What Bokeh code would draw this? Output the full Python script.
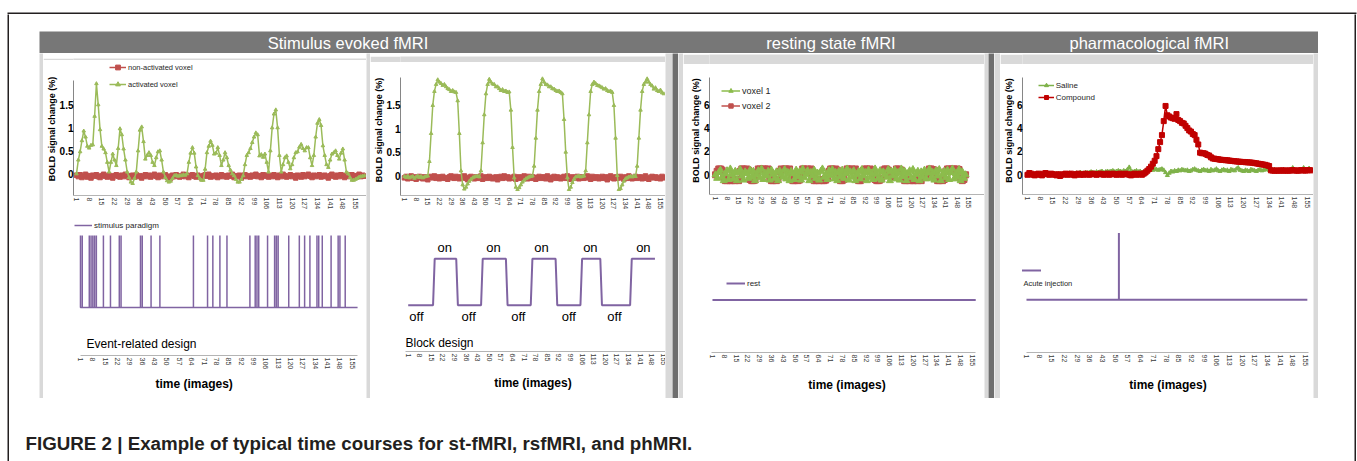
from bokeh.plotting import figure
from bokeh.layouts import row, column
from bokeh.models import (Range1d, LinearAxis, FixedTicker, Legend, LegendItem,
                          Label, NumeralTickFormatter, Title)
from bokeh.core.properties import value
from bokeh.embed import file_html
from bokeh.resources import INLINE
from bokeh.core.validation import silence
from bokeh.core.validation.warnings import MISSING_RENDERERS

silence(MISSING_RENDERERS, True)

# ---------------------------------------------------------------- data
TICKS = [1, 8, 15, 22, 29, 36, 43, 50, 57, 64, 71, 78, 85, 92, 99, 106, 113,
         120, 127, 134, 141, 148, 155]
SECTION_TITLES = ["Stimulus evoked fMRI", "resting state fMRI", "pharmacological fMRI"]
CAPTION = "FIGURE 2 | Example of typical time courses for st-fMRI, rsfMRI, and phMRI."

# panel 1: event-related design
act1 = [
    0.00, 0.30, 0.48, 0.72, 0.93, 0.80, 0.60, 0.56, 0.62, 0.63,
    1.25, 1.96, 1.50, 0.96, 0.60, 0.54, 0.46, 0.25, 0.04, 0.25,
    0.43, 0.30, 0.18, 0.55, 0.98, 0.85, 0.54, 0.30, 0.04, -0.08,
    -0.18, -0.21, -0.10, 0.04, 0.50, 0.95, 1.02, 0.70, 0.32, 0.40,
    0.46, 0.40, 0.25, 0.18, 0.35, 0.48, 0.50, 0.30, 0.04, -0.08,
    -0.15, -0.18, -0.16, -0.10, -0.04, -0.03, -0.05, -0.04, -0.04, -0.02,
    -0.03, 0.00, 0.25, 0.45, 0.57, 0.45, 0.15, -0.04, -0.10, -0.14,
    -0.14, 0.10, 0.46, 0.60, 0.71, 0.62, 0.43, 0.45, 0.57, 0.40,
    0.18, 0.30, 0.46, 0.35, 0.18, 0.08, 0.00, -0.04, -0.12, -0.18,
    -0.18, -0.12, -0.04, 0.20, 0.40, 0.46, 0.55, 0.68, 0.80, 0.89,
    0.85, 0.39, 0.42, 0.36, 0.43, 0.25, 0.04, 0.50, 1.00, 1.30,
    1.39, 1.00, 0.40, 0.04, 0.20, 0.35, 0.39, 0.25, 0.11, 0.20,
    0.35, 0.46, 0.48, 0.58, 0.64, 0.55, 0.50, 0.57, 0.57, 0.35,
    0.18, 0.40, 0.80, 1.10, 1.18, 1.05, 0.61, 0.40, 0.20, 0.14,
    0.30, 0.43, 0.46, 0.50, 0.40, 0.32, 0.45, 0.54, 0.30, 0.04,
    0.00, -0.08, -0.14, -0.14, -0.12, -0.10, -0.07, -0.06, -0.05, -0.04]
nonact1 = [
    -0.03, -0.06, -0.02, -0.08, -0.05, -0.01, -0.07, -0.04, -0.09, -0.03,
    -0.05, -0.02, -0.06, -0.08, -0.04, -0.01, -0.05, -0.07, -0.03, -0.06,
    -0.09, -0.04, -0.02, -0.05, -0.07, -0.03, -0.06, -0.01, -0.04, -0.08,
    -0.05, -0.03, -0.07, -0.02, -0.06, -0.04, -0.09, -0.05, -0.02, -0.06,
    -0.03, -0.07, -0.04, -0.01, -0.05, -0.08, -0.03, -0.06, -0.04, -0.02,
    -0.07, -0.05, -0.09, -0.03, -0.06, -0.02, -0.04, -0.07, -0.05, -0.01,
    -0.06, -0.03, -0.08, -0.04, -0.02, -0.05, -0.07, -0.03, -0.06, -0.09,
    -0.04, -0.02, -0.05, -0.01, -0.07, -0.04, -0.06, -0.03, -0.08, -0.05,
    -0.02, -0.06, -0.04, -0.07, -0.03, -0.05, -0.01, -0.08, -0.04, -0.06,
    -0.03, -0.09, -0.05, -0.02, -0.06, -0.04, -0.07, -0.03, -0.05, -0.01,
    -0.06, -0.04, -0.08, -0.02, -0.05, -0.03, -0.07, -0.04, -0.06, -0.02,
    -0.05, -0.08, -0.03, -0.06, -0.01, -0.04, -0.07, -0.05, -0.02, -0.06,
    -0.04, -0.09, -0.03, -0.05, -0.07, -0.02, -0.06, -0.04, -0.01, -0.05,
    -0.08, -0.03, -0.06, -0.04, -0.02, -0.07, -0.05, -0.03, -0.06, -0.09,
    -0.04, -0.01, -0.05, -0.07, -0.03, -0.06, -0.02, -0.04, -0.08, -0.05,
    -0.03, -0.06, -0.02, -0.07, -0.04, -0.05, -0.01, -0.06, -0.03, -0.05]
stim_onsets = [1, 2, 6, 7, 8, 9, 10, 14, 18, 23, 24, 35, 36, 41, 46, 65, 73, 76,
               80, 84, 97, 100, 101, 102, 107, 111, 112, 113, 119, 125, 128, 131,
               135, 136, 138, 143, 147, 148, 151]
stim_n_images = 158

# panel 2: block design
act2 = [
    -0.02, -0.04, -0.01, -0.05, -0.03, -0.02, -0.06, -0.03, -0.01, -0.04,
    -0.02, -0.05, -0.03, -0.02, -0.01, 0.30, 0.90, 1.50, 1.80, 1.95,
    2.05, 2.00, 1.97, 1.93, 1.95, 1.90, 1.86, 1.84, 1.80, 1.82,
    1.79, 1.78, 1.60, 0.90, 0.10, -0.20, -0.29, -0.25, -0.18, -0.12,
    -0.08, -0.05, -0.03, -0.02, -0.01, -0.03, 0.10, 0.70, 1.30, 1.75,
    1.95, 2.06, 2.00, 1.96, 1.95, 1.90, 1.90, 1.86, 1.82, 1.84,
    1.80, 1.81, 1.78, 1.79, 1.40, 0.60, -0.05, -0.25, -0.30, -0.26,
    -0.20, -0.14, -0.10, -0.07, -0.05, -0.03, -0.02, -0.01, 0.20, 0.80,
    1.40, 1.80, 1.95, 2.07, 2.00, 1.95, 1.94, 1.90, 1.90, 1.86,
    1.85, 1.82, 1.80, 1.81, 1.78, 1.75, 1.20, 0.50, -0.05, -0.30,
    -0.25, -0.15, -0.08, -0.03, -0.02, -0.01, -0.03, -0.02, -0.01, 0.10,
    0.70, 1.30, 1.80, 1.95, 2.00, 1.97, 1.93, 1.92, 1.90, 1.88,
    1.85, 1.86, 1.82, 1.80, 1.81, 1.78, 1.50, 0.80, 0.00, -0.30,
    -0.28, -0.20, -0.12, -0.07, -0.05, -0.03, -0.02, -0.03, -0.01, -0.02,
    0.20, 0.80, 1.40, 1.80, 1.95, 2.00, 2.07, 2.00, 1.95, 1.92,
    1.85, 1.88, 1.82, 1.80, 1.83, 1.77, 1.75]
nonact2 = [
    -0.05, -0.02, -0.07, -0.04, -0.01, -0.06, -0.03, -0.08, -0.05, -0.02,
    -0.04, -0.07, -0.03, -0.06, -0.09, -0.04, -0.02, -0.05, -0.01, -0.06,
    -0.03, -0.07, -0.04, -0.02, -0.06, -0.05, -0.08, -0.03, -0.01, -0.05,
    -0.06, -0.02, -0.04, -0.07, -0.03, -0.05, -0.01, -0.06, -0.09, -0.04,
    -0.02, -0.05, -0.07, -0.03, -0.06, -0.04, -0.01, -0.08, -0.05, -0.03,
    -0.06, -0.02, -0.04, -0.07, -0.05, -0.03, -0.09, -0.04, -0.02, -0.06,
    -0.01, -0.05, -0.03, -0.07, -0.04, -0.06, -0.02, -0.08, -0.05, -0.03,
    -0.06, -0.04, -0.01, -0.05, -0.07, -0.02, -0.06, -0.03, -0.04, -0.08,
    -0.05, -0.02, -0.06, -0.04, -0.03, -0.07, -0.01, -0.05, -0.09, -0.04,
    -0.02, -0.06, -0.03, -0.05, -0.07, -0.04, -0.02, -0.06, -0.01, -0.05,
    -0.08, -0.03, -0.06, -0.04, -0.02, -0.07, -0.05, -0.03, -0.06, -0.04,
    -0.01, -0.05, -0.08, -0.02, -0.06, -0.04, -0.03, -0.07, -0.05, -0.02,
    -0.06, -0.03, -0.09, -0.04, -0.01, -0.05, -0.07, -0.03, -0.06, -0.04,
    -0.02, -0.05, -0.08, -0.03, -0.06, -0.01, -0.04, -0.07, -0.05, -0.02,
    -0.06, -0.04, -0.03, -0.07, -0.05, -0.01, -0.06, -0.08, -0.04, -0.02,
    -0.05, -0.03, -0.06, -0.04, -0.07, -0.02, -0.05]
on_blocks = [(17, 30), (46, 60), (76, 90), (106, 117), (136, 150)]
block_n_images = 150
on_label_x = [23, 52.5, 81.5, 111, 143]
off_label_x = [6, 37.5, 67.5, 98, 125.5]

# panel 3: resting state
voxel1 = [
    0.00, -0.30, 0.20, 0.40, -0.20, -0.50, 0.10, 0.35, -0.40, 0.50,
    0.00, -0.35, 0.30, -0.50, 0.20, 0.45, -0.10, -0.45, 0.25, 0.10,
    -0.30, 0.40, -0.20, 0.30, -0.50, 0.00, 0.35, -0.25, 0.50, -0.40,
    0.15, -0.10, 0.30, -0.45, 0.40, 0.05, -0.30, 0.25, -0.50, 0.35,
    0.00, -0.20, 0.45, -0.35, 0.20, -0.50, 0.30, 0.10, -0.40, 0.40,
    -0.15, 0.25, -0.45, 0.50, -0.25, 0.00, 0.35, -0.50, 0.20, -0.10,
    0.40, -0.30, 0.15, -0.45, 0.30, 0.50, -0.20, 0.05, -0.40, 0.35,
    -0.05, 0.45, -0.35, 0.20, -0.50, 0.30, -0.15, 0.40, -0.30, 0.10,
    0.50, -0.45, 0.25, -0.20, 0.35, -0.50, 0.00, 0.30, -0.35, 0.45,
    -0.10, 0.20, -0.50, 0.40, -0.25, 0.15, -0.40, 0.50, 0.05, -0.30,
    0.35, -0.45, 0.25, 0.00, -0.20, 0.45, -0.50, 0.30, -0.10, 0.40,
    -0.35, 0.20, -0.45, 0.50, -0.15, 0.30, -0.50, 0.10, 0.35, -0.25,
    0.45, -0.40, 0.05, 0.30, -0.50, 0.25, -0.20, 0.40, -0.35, 0.15,
    0.50, -0.30, 0.20, -0.45, 0.35, -0.10, 0.45, -0.50, 0.00, 0.30,
    -0.25, 0.40, -0.40, 0.20, 0.50, -0.35, 0.10, -0.20, 0.45, -0.50,
    0.25, -0.30, 0.00]
voxel2 = [
    0.00, 0.30, 0.50, 0.50, 0.40, -0.20, -0.50, -0.50, -0.40, -0.50,
    -0.50, -0.45, -0.50, -0.40, -0.50, 0.30, 0.50, 0.50, 0.45, 0.50,
    0.40, -0.40, -0.50, -0.50, -0.45, 0.20, 0.50, 0.50, 0.45, 0.50,
    0.50, 0.40, 0.50, -0.30, -0.50, -0.50, -0.45, -0.50, -0.40, 0.30,
    0.50, 0.45, 0.50, 0.50, 0.40, 0.50, -0.30, -0.50, -0.50, -0.40,
    -0.50, -0.45, 0.10, 0.50, 0.50, 0.40, 0.50, 0.45, 0.50, -0.20,
    -0.50, -0.50, -0.45, -0.50, -0.40, -0.50, -0.50, -0.45, -0.30, 0.30,
    0.50, 0.50, 0.45, 0.50, 0.40, -0.30, -0.50, -0.50, -0.40, 0.20,
    0.50, 0.50, 0.45, 0.50, 0.40, 0.50, -0.40, -0.50, -0.50, -0.30,
    0.40, 0.50, 0.50, 0.45, 0.50, 0.40, 0.00, -0.40, -0.50, -0.50,
    -0.45, -0.30, 0.40, 0.50, 0.50, 0.40, 0.10, -0.20, -0.10, 0.20,
    0.50, 0.50, 0.45, 0.40, -0.30, -0.50, -0.50, -0.45, -0.50, -0.40,
    -0.50, -0.50, -0.45, -0.50, -0.40, -0.50, -0.20, 0.10, -0.10, 0.20,
    0.50, 0.50, 0.45, 0.40, -0.30, -0.50, -0.50, -0.45, -0.50, -0.40,
    0.30, 0.50, 0.50, 0.45, 0.50, 0.50, 0.40, 0.50, 0.45, -0.30,
    -0.50, -0.40, 0.00]
rest_n_images = 157
rest_level = 0

# panel 4: pharmacological
saline = [
    0.05, 0.00, 0.05, -0.05, 0.00, 0.05, 0.00, 0.10, 0.05, 0.00,
    0.05, 0.10, 0.05, 0.00, 0.05, 0.10, 0.05, 0.10, 0.00, 0.05,
    0.10, 0.05, 0.10, 0.15, 0.10, 0.05, 0.10, 0.15, 0.10, 0.20,
    0.15, 0.10, 0.20, 0.15, 0.20, 0.25, 0.20, 0.15, 0.25, 0.20,
    0.25, 0.30, 0.20, 0.25, 0.30, 0.25, 0.30, 0.35, 0.25, 0.30,
    0.35, 0.30, 0.25, 0.35, 0.30, 0.45, 0.65, 0.30, 0.25, 0.30,
    0.35, 0.25, 0.30, 0.20, 0.25, 0.30, 0.35, 0.40, 0.45, 0.40,
    0.50, 0.45, 0.40, 0.45, 0.50, 0.40, 0.20, -0.05, 0.15, 0.30,
    0.25, 0.35, 0.30, 0.40, 0.35, 0.45, 0.40, 0.35, 0.40, 0.30,
    0.35, 0.45, 0.50, 0.40, 0.35, 0.30, 0.40, 0.45, 0.35, 0.40,
    0.30, 0.45, 0.35, 0.40, 0.50, 0.35, 0.30, 0.40, 0.45, 0.35,
    0.40, 0.30, 0.45, 0.40, 0.35, 0.50, 0.60, 0.40, 0.35, 0.30,
    0.40, 0.35, 0.30, 0.45, 0.40, 0.35, 0.30, 0.40, 0.45, 0.35,
    0.40, 0.50, 0.45, 0.40, 0.35, 0.40, 0.45, 0.35, 0.40, 0.35,
    0.40, 0.45, 0.35, 0.40, 0.30, 0.40, 0.60, 0.35, 0.40, 0.35,
    0.45, 0.40, 0.60, 0.45, 0.40, 0.55, 0.45]
compound = [
    0.00, 0.15, 0.10, 0.00, -0.05, 0.05, 0.10, 0.00, -0.05, 0.10,
    0.15, 0.05, 0.00, 0.10, 0.05, 0.00, -0.05, 0.05, -0.10, 0.00,
    0.05, 0.10, 0.00, 0.05, 0.10, 0.00, -0.05, 0.05, 0.10, 0.00,
    0.05, 0.00, 0.10, 0.05, 0.00, 0.05, 0.10, 0.05, 0.00, 0.05,
    0.10, 0.05, 0.00, 0.05, 0.10, 0.00, 0.05, 0.10, 0.05, 0.00,
    0.05, 0.10, 0.00, 0.05, 0.10, 0.05, 0.00, -0.05, 0.05, 0.10,
    0.00, 0.05, 0.10, 0.00, 0.10, 0.20, 0.35, 0.50, 0.70, 0.95,
    1.20, 1.60, 2.20, 2.80, 3.40, 4.60, 5.90, 5.10, 5.00, 4.90,
    4.85, 4.80, 5.20, 4.70, 4.60, 4.45, 4.40, 4.20, 4.00, 3.80,
    3.70, 3.50, 3.40, 3.00, 2.60, 1.90, 1.85, 1.85, 1.80, 1.70,
    1.65, 1.50, 1.40, 1.38, 1.35, 1.33, 1.30, 1.28, 1.27, 1.25,
    1.24, 1.22, 1.20, 1.18, 1.16, 1.15, 1.13, 1.12, 1.10, 1.10,
    1.08, 1.07, 1.06, 1.05, 1.03, 1.00, 0.98, 0.95, 0.93, 0.90,
    0.87, 0.85, 0.80, 0.75, 0.38, 0.36, 0.35, 0.37, 0.35, 0.36,
    0.38, 0.35, 0.37, 0.36, 0.35, 0.38, 0.40, 0.37, 0.36, 0.35,
    0.38, 0.40, 0.37, 0.36, 0.39, 0.40, 0.38]
injection_image = 52
pharm_n_images = 156

# ---------------------------------------------------------------- style
FONT = "Liberation Sans"
WHITE = "#ffffff"
LG = "#d9d9d9"
DG = "#6e6e6e"
HDR = "#777777"
FRAME = "#231f20"
GREEN = "#9bbb59"
RED = "#c0504d"
PURPLE = "#8064a2"
DRED = "#c00000"
SGREEN = "#7fb24a"


def block(w, h, color):
    return figure(width=w, height=h, toolbar_location=None, output_backend="svg",
                  x_axis_type=None, y_axis_type=None, min_border=0,
                  outline_line_color=None, background_fill_color=color,
                  border_fill_color=color)


def chart(w, h, xr, yr, ml, mt, mb, mr=0):
    return figure(width=w, height=h, x_range=Range1d(*xr), y_range=Range1d(*yr),
                  toolbar_location=None, output_backend="svg",
                  x_axis_type=None, y_axis_type=None,
                  min_border_left=ml, min_border_right=mr, min_border_top=mt,
                  min_border_bottom=mb, outline_line_color=None,
                  background_fill_color=WHITE, border_fill_color=WHITE)


def add_xaxis(p, bounds=None, label=None, standoff=8):
    ax = LinearAxis(ticker=FixedTicker(ticks=TICKS),
                    axis_line_color="#b4b4b4", axis_line_width=1,
                    major_tick_line_color=None, minor_tick_line_color=None,
                    major_tick_out=0, major_tick_in=0,
                    minor_tick_out=0, minor_tick_in=0,
                    major_label_orientation="vertical",
                    major_label_text_font=FONT, major_label_text_font_size="7px",
                    major_label_text_color="#3a3a3a", major_label_standoff=2)
    if bounds is not None:
        ax.bounds = bounds
    if label:
        ax.axis_label = label
        ax.axis_label_text_font = FONT
        ax.axis_label_text_font_size = "12px"
        ax.axis_label_text_font_style = "bold"
        ax.axis_label_text_color = "#000000"
        ax.axis_label_standoff = standoff
    p.add_layout(ax, "below")


def add_yaxis(p, ticks, bounds):
    ax = LinearAxis(ticker=FixedTicker(ticks=ticks), bounds=bounds,
                    formatter=NumeralTickFormatter(format="0.[0]"),
                    axis_label="BOLD signal change (%)",
                    axis_label_text_font=FONT, axis_label_text_font_size="9px",
                    axis_label_text_font_style="bold",
                    axis_label_text_color="#000000", axis_label_standoff=0,
                    major_label_text_font=FONT, major_label_text_font_size="10px",
                    major_label_text_font_style="bold",
                    major_label_text_color="#000000", major_label_standoff=0,
                    major_tick_line_color=None, minor_tick_line_color=None,
                    major_tick_out=0, major_tick_in=0,
                    minor_tick_out=0, minor_tick_in=0,
                    axis_line_color="#868686")
    p.add_layout(ax, "left")


def add_legend(p, items, loc, **kw):
    opts = dict(location=loc, orientation="vertical", background_fill_alpha=0,
                border_line_color=None, padding=0, margin=0, spacing=5,
                glyph_width=17, glyph_height=12, label_height=12,
                label_standoff=2, label_text_font=FONT,
                label_text_font_size="7.5px", label_text_color="#262626")
    opts.update(kw)
    lg = Legend(items=[LegendItem(label=t, renderers=r) for t, r in items], **opts)
    p.add_layout(lg)


# ---------------------------------------------------------------- panel 1
p1t = chart(323, 152, (-0.65, 161.07), (-0.471, 2.42), ml=29, mt=2, mb=15)
add_yaxis(p1t, [0, 0.5, 1, 1.5], (-0.471, 2.03))
add_xaxis(p1t)
x1 = list(range(1, len(act1) + 1))
r1a = p1t.line(x1, nonact1, color=RED, line_width=1.5)
r1b = p1t.scatter(x1, nonact1, marker="square", size=4.5, color=RED)
g1a = p1t.line(x1, act1, color=GREEN, line_width=1.5)
g1b = p1t.scatter(x1, act1, marker="triangle", size=3.5, color=GREEN)
add_legend(p1t, [("non-activated voxel", [r1a, r1b]), ("activated voxel", [g1a, g1b])],
           (36, 105))

p1b = chart(323, 181, (-2.95, 163.06), (-0.667, 1.292), ml=29, mt=2, mb=38)
add_xaxis(p1b, bounds=(1, stim_n_images))
p1b.add_layout(Title(text="time (images)", align="left", offset=82, standoff=5,
                     text_font=FONT, text_font_size="12px", text_font_style="bold",
                     text_color="#000000"), "below")
sx, sy = [1], [0]
for k in stim_onsets:
    sx += [k, k, k]
    sy += [0, 1, 0]
sx.append(stim_n_images)
sy.append(0)
s1 = p1b.line(sx, sy, color=PURPLE, line_width=1.5)
add_legend(p1b, [("stimulus paradigm", [s1])], (1, 124), glyph_width=18,
           label_text_font_size="8px")
p1b.add_layout(Label(x=4.4, y=-0.514, text="Event-related design", text_font=FONT,
                     text_font_size="12px", text_baseline="middle",
                     text_color="#000000"))

# ---------------------------------------------------------------- panel 2
p2t = chart(295, 150, (-1.407, 158.04), (-0.428, 2.377), ml=30, mt=2, mb=17)
add_yaxis(p2t, [0, 0.5, 1, 1.5], (-0.428, 2.1))
add_xaxis(p2t)
x2 = list(range(1, len(act2) + 1))
p2t.line(x2, nonact2, color=RED, line_width=1.5)
p2t.scatter(x2, nonact2, marker="square", size=4.5, color=RED)
p2t.line(x2, act2, color=GREEN, line_width=1.5)
p2t.scatter(x2, act2, marker="triangle", size=3.5, color=GREEN)

p2b = chart(295, 181, (-3.65, 156.37), (-1.0, 1.957), ml=30, mt=2, mb=40)
add_xaxis(p2b, bounds=(-0.6, 156.37), label="time (images)", standoff=8)
bx = list(range(1, block_n_images + 1))
by = [1 if any(a <= t <= b for a, b in on_blocks) else 0 for t in bx]
p2b.line(bx, by, color=PURPLE, line_width=2)
p2b.text(on_label_x, [1.234] * len(on_label_x), text=["on"] * len(on_label_x),
         text_font=value(FONT), text_font_size=value("13px"), text_align="center",
         text_baseline="middle", text_color="#000000")
p2b.text(off_label_x, [-0.255] * len(off_label_x), text=["off"] * len(off_label_x),
         text_font=value(FONT), text_font_size=value("13px"), text_align="center",
         text_baseline="middle", text_color="#000000")
p2b.add_layout(Label(x=-0.63, y=-0.809, text="Block design", text_font=FONT,
                     text_font_size="12px", text_baseline="middle",
                     text_color="#000000"))

# ---------------------------------------------------------------- panel 3
p3t = chart(301, 150, (-2.65, 164.5), (-1.688, 9.28), ml=26, mt=2, mb=20)
add_yaxis(p3t, [0, 2, 4, 6], (-1.688, 8.3))
add_xaxis(p3t)
x3 = list(range(1, len(voxel1) + 1))
v2a = p3t.line(x3, voxel2, color=RED, line_width=1.5)
v2b = p3t.scatter(x3, voxel2, marker="square", size=6, color=RED)
v1a = p3t.line(x3, voxel1, color="#8cbc4c", line_width=1.5)
v1b = p3t.scatter(x3, voxel1, marker="triangle", size=7, color="#8cbc4c")
add_legend(p3t, [("voxel 1", [v1a, v1b]), ("voxel 2", [v2a, v2b])], (12, 82.8),
           glyph_width=19, glyph_height=11, label_height=11, spacing=4, padding=4,
           background_fill_color=WHITE, background_fill_alpha=1,
           label_text_font_size="9px")

p3b = chart(301, 181, (-0.76, 162.2), (-1.06, 1.68), ml=23, mt=2, mb=42)
add_xaxis(p3b, bounds=(0.4, 157), label="time (images)", standoff=9)
rr = p3b.line([1, rest_n_images], [rest_level, rest_level], color=PURPLE, line_width=2)
add_legend(p3b, [("rest", [rr])], (17, 63), glyph_width=19, label_text_font_size="8px")

# ---------------------------------------------------------------- panel 4
p4t = chart(313, 150, (-1.743, 158.43), (-1.688, 9.28), ml=21, mt=2, mb=20)
add_yaxis(p4t, [0, 2, 4, 6], (-1.688, 8.3))
add_xaxis(p4t)
x4 = list(range(1, len(saline) + 1))
s4a = p4t.line(x4, saline, color=SGREEN, line_width=1.5)
s4b = p4t.scatter(x4, saline, marker="triangle", size=4, color=SGREEN)
c4a = p4t.line(x4, compound, color=DRED, line_width=1.5)
c4b = p4t.scatter(x4, compound, marker="square", size=5, color=DRED)
add_legend(p4t, [("Saline", [s4a, s4b]), ("Compound", [c4a, c4b])], (15.7, 92),
           glyph_width=16, glyph_height=10, label_height=10, spacing=2,
           label_text_font_size="8px")

p4b = chart(313, 181, (-1.2, 159.4), (-0.788, 1.248), ml=21, mt=2, mb=42)
add_xaxis(p4b, bounds=(1, 156.5), label="time (images)", standoff=9)
ix = [1, injection_image, injection_image, injection_image, pharm_n_images]
iy = [0, 0, 1, 0, 0]
ir = p4b.line(ix, iy, color=PURPLE, line_width=2)
add_legend(p4b, [(" ", [ir])], (-1, 77.3), glyph_width=20, glyph_height=10,
           label_height=10)
p4b.add_layout(Label(x=-0.65, y=0.248, text="Acute injection", text_font=FONT,
                     text_font_size="7.5px", text_baseline="middle",
                     text_color="#262626"))

# ---------------------------------------------------------------- frame
hdr = figure(width=1279, height=22, x_range=Range1d(0, 1279), y_range=Range1d(0, 22),
             toolbar_location=None, output_backend="svg", x_axis_type=None,
             y_axis_type=None, min_border=0, outline_line_color=None,
             background_fill_color=HDR, border_fill_color=HDR)
for t, cx in zip(SECTION_TITLES, [308.5, 791.5, 1109.8]):
    hdr.add_layout(Label(x=cx, y=11, text=t, text_font=FONT, text_font_size="16.5px",
                         text_align="center", text_baseline="middle",
                         text_color="#ffffff"))

cap = figure(width=1345, height=63, x_range=Range1d(0, 1345), y_range=Range1d(0, 63),
             toolbar_location=None, output_backend="svg", x_axis_type=None,
             y_axis_type=None, min_border=0, outline_line_color=None,
             background_fill_color=WHITE, border_fill_color=WHITE)
cap.add_layout(Label(x=16, y=18, text=CAPTION, text_font=FONT, text_font_size="18.75px",
                     text_font_style="bold", text_baseline="middle",
                     text_color="#231f20"))

# top edge of the outer frame: white margin around a 2 px dark band
top_edge = figure(width=1357, height=14, toolbar_location=None, output_backend="svg",
                  x_axis_type=None, y_axis_type=None, min_border_top=12,
                  min_border_bottom=0, min_border_left=7, min_border_right=1,
                  outline_line_color=None, background_fill_color=FRAME,
                  border_fill_color=WHITE)


def panel(w, top_gap, top_fig, bottom_fig, bottom_gap):
    return column(block(w, top_gap, LG), top_fig, bottom_fig, block(w, bottom_gap, LG))


group1 = row(block(4, 345, LG), panel(323, 7, p1t, p1b, 5), block(4, 345, LG),
             panel(295, 9, p2t, p2b, 5), block(7, 345, LG))
group2 = row(block(5, 345, LG), panel(301, 11, p3t, p3b, 3), block(4, 345, LG))
group3 = row(block(6, 345, LG), panel(313, 11, p4t, p4b, 3), block(5, 345, LG))
body = row(group1, block(6, 345, DG), group2, block(6, 345, DG), group3)
gray = column(hdr, body)

inner = column(block(1345, 17, WHITE),
               row(block(30, 367, WHITE), gray, block(36, 367, WHITE)),
               cap)

root = column(
    top_edge,
    row(block(7, 447, WHITE), block(2, 447, FRAME), inner, block(2, 447, FRAME),
        block(1, 447, WHITE)),
)

open("out.html", "w").write(file_html(root, INLINE))
